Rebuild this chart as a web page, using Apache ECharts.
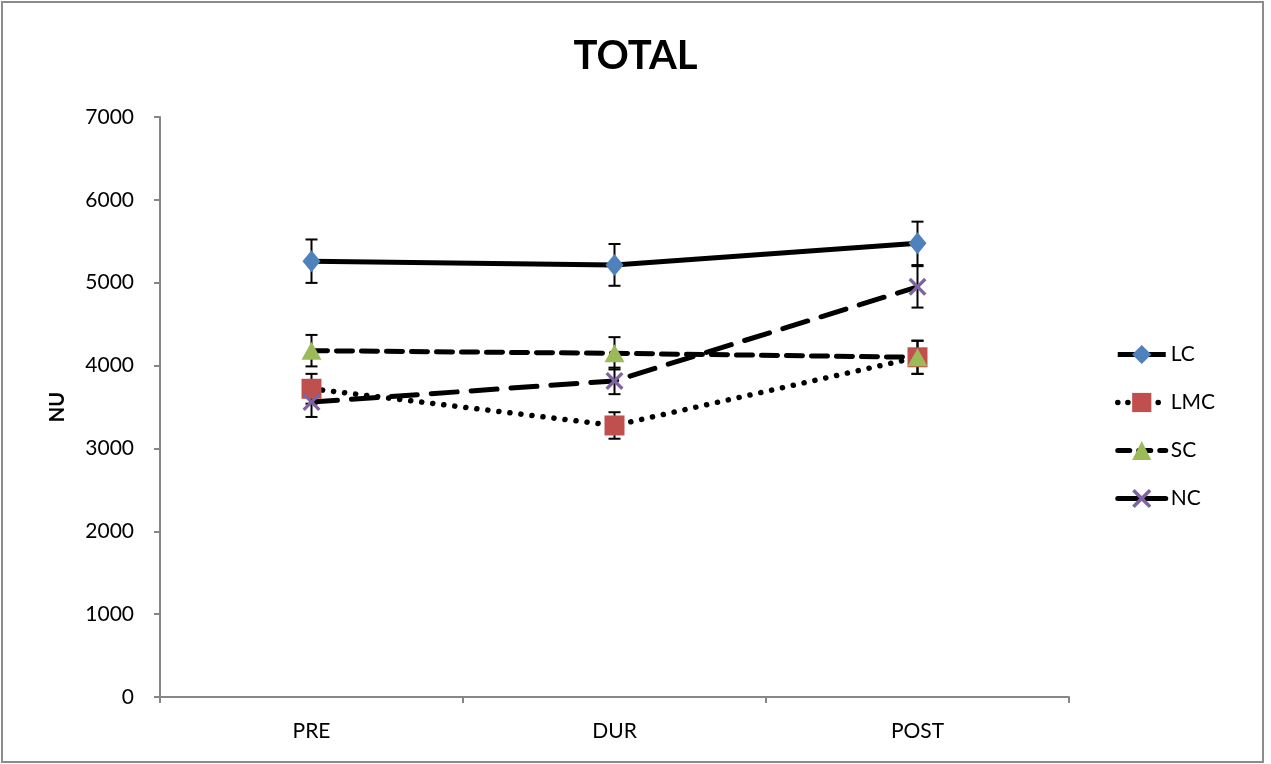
<!DOCTYPE html>
<html><head><meta charset="utf-8">
<script src="https://cdn.jsdelivr.net/npm/echarts@6/dist/echarts.min.js"></script>
<style>html,body{margin:0;padding:0;background:#fff}#c{width:1271px;height:764px}</style>
</head><body><div id="c"></div>
<script>
const categories = ['PRE', 'DUR', 'POST'];
const seriesNames = ['LC', 'LMC', 'SC', 'NC'];
const lcValues = [5260, 5215, 5475];
const lmcValues = [3720, 3277, 4100];
const scValues = [4180, 4148, 4100];
const ncValues = [3560, 3815, 4950];
const lcErrors = [262, 252, 262];
const lmcErrors = [180, 160, 200];
const scErrors = [190, 195, 200];
const ncErrors = [180, 160, 250];
const yTicks = [0, 1000, 2000, 3000, 4000, 5000, 6000, 7000];

const FONT = 'Lato';
const xPath = 'path://M0,1.3L1.3,0L10,8.7L8.7,10Z M8.7,0L10,1.3L1.3,10L0,8.7Z';

const lineStyles = {
  LC: { color: '#000', width: 5 },
  LMC: { color: '#000', width: 5.5, type: [0.1, 11], cap: 'round' },
  SC: { color: '#000', width: 5, type: [16, 9], cap: 'round' },
  NC: { color: '#000', width: 5, type: [26, 14], cap: 'round' }
};
const legendLineStyles = {
  LC: { color: '#000', width: 5, type: 'solid' },
  LMC: { color: '#000', width: 5.5, type: [0.1, 10], cap: 'round' },
  SC: { color: '#000', width: 5, type: [12, 9], cap: 'round' },
  NC: { color: '#000', width: 5, type: 'solid', cap: 'round' }
};

function errSeries(vals, errs) {
  return {
    type: 'custom', z: 1, silent: true,
    data: vals.map((v, i) => [i, v, errs[i]]),
    renderItem: function (params, api) {
      const i = api.value(0), v = api.value(1), e = api.value(2);
      const top = api.coord([i, v + e]);
      const bot = api.coord([i, v - e]);
      const w = 6;
      const st = { stroke: '#000', lineWidth: 2 };
      return { type: 'group', children: [
        { type: 'line', shape: { x1: top[0], y1: top[1], x2: bot[0], y2: bot[1] }, style: st },
        { type: 'line', shape: { x1: top[0] - w, y1: top[1], x2: top[0] + w, y2: top[1] }, style: st },
        { type: 'line', shape: { x1: bot[0] - w, y1: bot[1], x2: bot[0] + w, y2: bot[1] }, style: st }
      ]};
    }
  };
}

const chart = echarts.init(document.getElementById('c'));
chart.setOption({
  animation: false,
  backgroundColor: '#fff',
  textStyle: { fontFamily: FONT },
  title: { text: 'TOTAL', left: 'center', top: 31,
    textStyle: { fontFamily: FONT, fontWeight: 'bold', fontSize: 40, color: '#000' } },
  grid: { left: 160, right: 202, top: 117, bottom: 67 },
  legend: {
    orient: 'vertical', left: 1110, top: 339,
    itemWidth: 48, itemHeight: 24, itemGap: 27,
    data: seriesNames.map(n => ({ name: n, lineStyle: legendLineStyles[n] })),
    textStyle: { fontFamily: FONT, fontSize: 21, color: '#000' }
  },
  xAxis: {
    type: 'category', data: categories, boundaryGap: true,
    axisLine: { lineStyle: { color: '#868686', width: 2 } },
    axisTick: { show: true, length: 6, lineStyle: { color: '#868686', width: 2 } },
    axisLabel: { fontFamily: FONT, fontSize: 21, color: '#000', margin: 24 }
  },
  yAxis: {
    type: 'value', min: 0, max: 7000, interval: 1000,
    name: 'NU', nameLocation: 'middle', nameGap: 92, nameRotate: 90,
    nameTextStyle: { fontFamily: FONT, fontWeight: 'bold', fontSize: 20, color: '#000' },
    axisLine: { show: true, lineStyle: { color: '#868686', width: 2 } },
    axisTick: { show: true, length: 6, lineStyle: { color: '#868686', width: 2 } },
    splitLine: { show: false },
    axisLabel: { fontFamily: FONT, fontSize: 21, color: '#000', margin: 26,
      formatter: v => yTicks.includes(v) ? String(v) : '' }
  },
  graphic: [{ type: 'rect', shape: { x: 2, y: 2, width: 1261, height: 760 },
    style: { fill: 'none', stroke: '#8c8c8c', lineWidth: 2 }, silent: true }],
  series: [
    errSeries(lcValues, lcErrors),
    errSeries(lmcValues, lmcErrors),
    errSeries(scValues, scErrors),
    errSeries(ncValues, ncErrors),
    { name: 'LC', type: 'line', z: 3, data: lcValues, symbol: 'diamond', symbolSize: [18, 22],
      lineStyle: lineStyles.LC, itemStyle: { color: '#4F81BD' } },
    { name: 'LMC', type: 'line', z: 3, data: lmcValues, symbol: 'rect', symbolSize: 20,
      lineStyle: lineStyles.LMC, itemStyle: { color: '#C0504D' } },
    { name: 'SC', type: 'line', z: 3, data: scValues, symbol: 'triangle', symbolSize: [20, 18],
      lineStyle: lineStyles.SC, itemStyle: { color: '#9BBB59' } },
    { name: 'NC', type: 'line', z: 3, data: ncValues, symbol: xPath, symbolSize: 18,
      lineStyle: lineStyles.NC, itemStyle: { color: '#8064A2' } }
  ]
});
</script></body></html>
